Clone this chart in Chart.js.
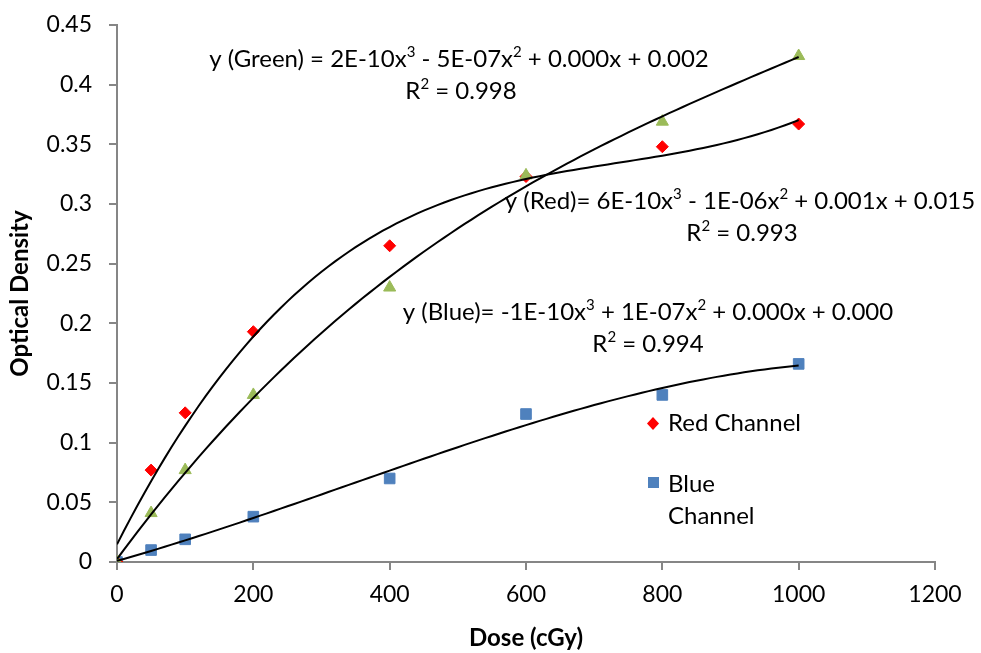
<!DOCTYPE html>
<html>
<head>
<meta charset="utf-8">
<script src="https://cdn.jsdelivr.net/npm/chart.js@4/dist/chart.umd.min.js"></script>
<style>
  html, body { margin: 0; padding: 0; background: #fff; }
  #wrap { width: 981px; height: 653px; }
</style>
</head>
<body>
<div id="wrap"><canvas id="myDoseChart" width="981" height="653"></canvas></div>
<script>
// dose values (cGy) and optical density per channel
const doses = [0, 50, 100, 200, 400, 600, 800, 1000];
const redOD = [0, 0.077, 0.125, 0.193, 0.265, 0.323, 0.348, 0.367];
const greenOD = [0, 0.041, 0.077, 0.14, 0.23, 0.324, 0.369, 0.424];
const blueOD = [0, 0.01, 0.019, 0.038, 0.07, 0.124, 0.14, 0.166];

// tick labels
const xTickLabels = ["0", "200", "400", "600", "800", "1000", "1200"];
const yTickLabels = ["0", "0.05", "0.1", "0.15", "0.2", "0.25", "0.3", "0.35", "0.4", "0.45"];

const FONT = "Lato, 'Open Sans', sans-serif";

// least squares cubic fit (x scaled by 1000 to keep the numbers sane)
const cubicFit = (xs, ys) => {
  const n = 4;
  const A = [];
  for (let r = 0; r < n; r++) {
    A.push(new Array(n + 1).fill(0));
  }
  xs.forEach((xv, i) => {
    const x = xv / 1000;
    for (let r = 0; r < n; r++) {
      for (let c = 0; c < n; c++) A[r][c] += Math.pow(x, r + c);
      A[r][n] += ys[i] * Math.pow(x, r);
    }
  });
  // gaussian elimination
  for (let i = 0; i < n; i++) {
    let p = i;
    for (let k = i + 1; k < n; k++) if (Math.abs(A[k][i]) > Math.abs(A[p][i])) p = k;
    [A[i], A[p]] = [A[p], A[i]];
    for (let k = i + 1; k < n; k++) {
      const f = A[k][i] / A[i][i];
      for (let c = i; c <= n; c++) A[k][c] -= f * A[i][c];
    }
  }
  const coef = new Array(n).fill(0);
  for (let i = n - 1; i >= 0; i--) {
    let s = A[i][n];
    for (let c = i + 1; c < n; c++) s -= A[i][c] * coef[c];
    coef[i] = s / A[i][i];
  }
  return (xv) => {
    const x = xv / 1000;
    return coef[0] + coef[1] * x + coef[2] * x * x + coef[3] * x * x * x;
  };
};

// sample the fitted curve over the dose range
const trendPoints = (ys) => {
  const f = cubicFit(doses, ys);
  const pts = [];
  for (let x = 0; x <= 1000; x += 10) pts.push({ x: x, y: f(x) });
  return pts;
};

const toPoints = (ys) => doses.map((d, i) => ({ x: d, y: ys[i] }));

const trendStyle = {
  showLine: true,
  pointRadius: 0,
  borderColor: "#000",
  borderWidth: 2,
  fill: false,
};

// draw a line of text with superscript pieces; parts = [[text, isSup], ...]
const drawRich = (ctx, parts, x, y, size) => {
  const supSize = Math.round(size * 0.62);
  let total = 0;
  parts.forEach(([t, sup]) => {
    ctx.font = `${sup ? supSize : size}px ${FONT}`;
    total += ctx.measureText(t).width;
  });
  let cx = x - total / 2; // centred on x
  ctx.textAlign = "left";
  ctx.textBaseline = "alphabetic";
  parts.forEach(([t, sup]) => {
    ctx.font = `${sup ? supSize : size}px ${FONT}`;
    ctx.fillText(t, cx, sup ? y - size * 0.4 : y);
    cx += ctx.measureText(t).width;
  });
};

// equations, r-squared labels and the legend
const overlayPlugin = {
  id: "overlay",
  afterDraw: (chart) => {
    const ctx = chart.ctx;
    ctx.save();
    ctx.fillStyle = "#000";
    const s = 24;
    drawRich(ctx, [["y (Green) = 2E-10x", 0], ["3", 1], [" - 5E-07x", 0], ["2", 1], [" + 0.000x + 0.002", 0]], 459, 67, s);
    drawRich(ctx, [["R", 0], ["2", 1], [" = 0.998", 0]], 461, 99, s);
    drawRich(ctx, [["y (Red)= 6E-10x", 0], ["3", 1], [" - 1E-06x", 0], ["2", 1], [" + 0.001x + 0.015", 0]], 740, 209, s);
    drawRich(ctx, [["R", 0], ["2", 1], [" = 0.993", 0]], 742, 241, s);
    drawRich(ctx, [["y (Blue)= -1E-10x", 0], ["3", 1], [" + 1E-07x", 0], ["2", 1], [" + 0.000x + 0.000", 0]], 648, 320, s);
    drawRich(ctx, [["R", 0], ["2", 1], [" = 0.994", 0]], 648, 352, s);

    // legend
    ctx.fillStyle = "#FF0000";
    ctx.beginPath();
    ctx.moveTo(653, 417);
    ctx.lineTo(659, 423.5);
    ctx.lineTo(653, 430);
    ctx.lineTo(647, 423.5);
    ctx.closePath();
    ctx.fill();
    ctx.fillStyle = "#4F81BD";
    ctx.fillRect(648, 477, 11, 11);
    ctx.fillStyle = "#000";
    ctx.font = `24px ${FONT}`;
    ctx.textBaseline = "middle";
    ctx.textAlign = "left";
    ctx.fillText("Red Channel", 668, 423);
    ctx.fillText("Blue", 668, 484);
    ctx.fillText("Channel", 668, 516);
    ctx.restore();
  },
};

// create the scatter chart with trendlines
const createDoseChart = () => {
  new Chart(document.querySelector("#myDoseChart"), {
    type: "scatter",
    data: {
      datasets: [
        { label: "Red trend", data: trendPoints(redOD), ...trendStyle },
        { label: "Green trend", data: trendPoints(greenOD), ...trendStyle },
        { label: "Blue trend", data: trendPoints(blueOD), ...trendStyle },
        {
          label: "Green Channel",
          data: toPoints(greenOD),
          pointStyle: "triangle",
          pointRadius: 7,
          backgroundColor: "#9BBB59",
          borderColor: "#9BBB59",
        },
        {
          label: "Red Channel",
          data: toPoints(redOD),
          pointStyle: "rectRot",
          pointRadius: 6,
          backgroundColor: "#FF0000",
          borderColor: "#FF0000",
        },
        {
          label: "Blue Channel",
          data: toPoints(blueOD),
          pointStyle: "rect",
          pointRadius: 7.5,
          backgroundColor: "#4F81BD",
          borderColor: "#4F81BD",
        },
      ],
    },
    options: {
      responsive: false,
      animation: false,
      layout: { padding: { top: 25, right: 46, left: 0, bottom: 0 } },
      scales: {
        x: {
          type: "linear",
          min: 0,
          max: 1200,
          ticks: {
            stepSize: 200,
            color: "#000",
            font: { family: FONT, size: 23 },
            padding: 11,
            maxRotation: 0,
            callback: (value, index) => xTickLabels[index],
          },
          grid: { drawOnChartArea: false, drawTicks: true, tickLength: 8, color: "#868686", lineWidth: 2 },
          border: { color: "#868686", width: 2 },
          title: {
            display: true,
            text: "Dose (cGy)",
            color: "#000",
            font: { family: FONT, size: 24, weight: "bold" },
            padding: { top: 0, bottom: 0 },
          },
          afterFit: (scale) => {
            scale.height = 91;
            scale.paddingLeft = 0;
            scale.paddingRight = 0;
          },
        },
        y: {
          min: 0,
          max: 0.45,
          ticks: {
            stepSize: 0.05,
            color: "#000",
            font: { family: FONT, size: 23 },
            padding: 17,
            callback: (value, index) => yTickLabels[index],
          },
          grid: { drawOnChartArea: false, drawTicks: true, tickLength: 8, color: "#868686", lineWidth: 2 },
          border: { color: "#868686", width: 2 },
          title: {
            display: true,
            text: "Optical Density",
            color: "#000",
            font: { family: FONT, size: 24, weight: "bold" },
            padding: { top: 6, bottom: 0 },
          },
          afterFit: (scale) => {
            scale.width = 117;
            scale.paddingTop = 0;
            scale.paddingBottom = 0;
          },
        },
      },
      plugins: {
        legend: { display: false },
        tooltip: { enabled: false },
      },
    },
    plugins: [overlayPlugin],
  });
};

createDoseChart();
</script>
</body>
</html>
